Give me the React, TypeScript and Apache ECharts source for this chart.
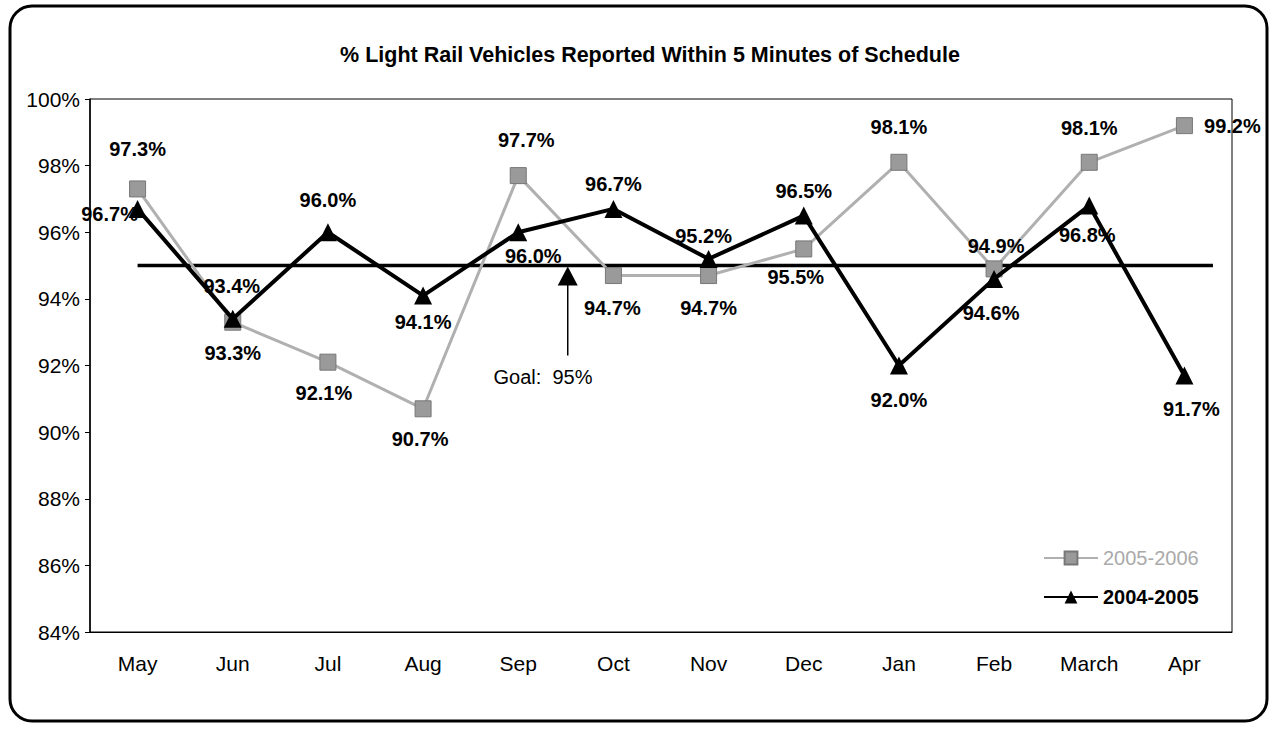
import React, { useEffect, useRef } from "react";
import * as echarts from "echarts";

const months = ["May", "Jun", "Jul", "Aug", "Sep", "Oct", "Nov", "Dec", "Jan", "Feb", "March", "Apr"];
const values0506 = [97.3, 93.3, 92.1, 90.7, 97.7, 94.7, 94.7, 95.5, 98.1, 94.9, 98.1, 99.2];
const values0405 = [96.7, 93.4, 96.0, 94.1, 96.0, 96.7, 95.2, 96.5, 92.0, 94.6, 96.8, 91.7];
const goalValue = 95;
const goalSpan = [0, 11.3];
const goalArrowX = 4.52;
const goalArrowY = [92.3, 94.69];
const goalLabelY = 91.65;
const goalLabelX = 4.26;
const yTicks = { min: 84, max: 100, interval: 2 };

const offs0506: [number, number][] = [
  [0, -40], [0, 31], [-4, 31], [-3, 30], [8, -36], [-1, 32],
  [0, 32], [-8, 28], [0, -35], [2, -23], [0, -34], [48, 0],
];
const offs0405: [number, number][] = [
  [-28, 5], [-1, -33], [0, -32], [0, 26], [15, 24], [0, -25],
  [-5, -23], [0, -25], [0, 34], [-3, 34], [-2, 29], [7, 34],
];

const FF = "Liberation Sans, Arial, sans-serif";
const labelFont = { fontFamily: FF, fontSize: 20, fontWeight: "bold" as const, color: "#000" };

export default function App() {
  const ref = useRef<HTMLDivElement>(null);
  useEffect(() => {
    if (!ref.current) return;
    const chart = echarts.init(ref.current, undefined, { renderer: "svg" });
    const mk = (vals: number[], offs: [number, number][]) =>
      vals.map((v, i) => ({
        value: v,
        label: { show: true, position: "inside", offset: offs[i], formatter: (p: any) => p.value.toFixed(1) + "%", ...labelFont },
      }));
    chart.setOption({
      animation: false,
      backgroundColor: "#fff",
      textStyle: { fontFamily: FF },
      title: {
        text: "% Light Rail Vehicles Reported Within 5 Minutes of Schedule",
        left: 645,
        textAlign: "center",
        top: 39,
        textStyle: { fontSize: 21.5, fontWeight: "bold", color: "#000", fontFamily: FF },
      },
      graphic: [
        {
          type: "rect",
          shape: { x: 10, y: 6, width: 1257, height: 715, r: 22 },
          style: { fill: "none", stroke: "#000", lineWidth: 3 },
          silent: true,
        },
      ],
      grid: { left: 90, right: 44, top: 99, bottom: 98, show: true, borderColor: "#000", borderWidth: 1, backgroundColor: "transparent" },
      legend: {
        orient: "vertical",
        left: 1038,
        top: 543,
        itemWidth: 54,
        itemHeight: 16,
        itemGap: 19,
        data: [
          { name: "2005-2006", textStyle: { color: "#aaa", fontWeight: "normal" } },
          { name: "2004-2005" },
        ],
        textStyle: { ...labelFont },
      },
      xAxis: [
        {
          type: "category",
          data: months,
          boundaryGap: true,
          axisLine: { lineStyle: { color: "#000", width: 1 } },
          axisTick: { show: false },
          axisLabel: { color: "#000", fontSize: 21, margin: 21, fontFamily: FF },
          splitLine: { show: false },
        },
        {
          type: "value",
          min: -0.5,
          max: 11.5,
          show: false,
        },
      ],
      yAxis: {
        type: "value",
        min: yTicks.min,
        max: yTicks.max,
        interval: yTicks.interval,
        axisLine: { show: true, onZero: false, lineStyle: { color: "#000", width: 1.5 } },
        axisTick: { show: true, inside: false, length: 5, lineStyle: { color: "#000" } },
        axisLabel: { color: "#000", fontSize: 21, margin: 10, formatter: "{value}%", fontFamily: FF },
        splitLine: { show: false },
      },
      series: [
        {
          name: "Goal",
          type: "line",
          xAxisIndex: 1,
          data: goalSpan.map((x) => [x, goalValue]),
          symbol: "none",
          lineStyle: { color: "#000", width: 3.5 },
          z: 1,
        },
        {
          name: "GoalArrow",
          type: "line",
          xAxisIndex: 1,
          data: [
            { value: [goalArrowX, goalArrowY[0]], symbol: "none" },
            { value: [goalArrowX, goalArrowY[1]], symbol: "triangle", symbolSize: [20, 19] },
          ],
          lineStyle: { color: "#000", width: 1.5 },
          itemStyle: { color: "#000" },
          z: 1,
        },
        {
          name: "GoalLabel",
          type: "scatter",
          xAxisIndex: 1,
          data: [[goalLabelX, goalLabelY]],
          symbolSize: 1,
          itemStyle: { color: "rgba(0,0,0,0)", opacity: 1 },
          label: {
            show: true,
            position: "inside",
            formatter: "Goal:  " + goalValue + "%",
            fontSize: 20,
            color: "#000",
            opacity: 1,
            fontFamily: FF,
          },
          z: 1,
        },
        {
          name: "2005-2006",
          type: "line",
          data: mk(values0506, offs0506),
          symbol: "rect",
          symbolSize: 16,
          lineStyle: { color: "#b0b0b0", width: 3 },
          itemStyle: { color: "#9a9a9a", borderColor: "#777", borderWidth: 1 },
          z: 2,
        },
        {
          name: "2004-2005",
          type: "line",
          data: mk(values0405, offs0405),
          symbol: "triangle",
          symbolSize: 18,
          lineStyle: { color: "#000", width: 4 },
          itemStyle: { color: "#000" },
          z: 3,
        },
      ],
    });
    return () => chart.dispose();
  }, []);
  return <div ref={ref} style={{ position: "absolute", left: 0, top: 0, width: 1276, height: 730 }} />;
}
